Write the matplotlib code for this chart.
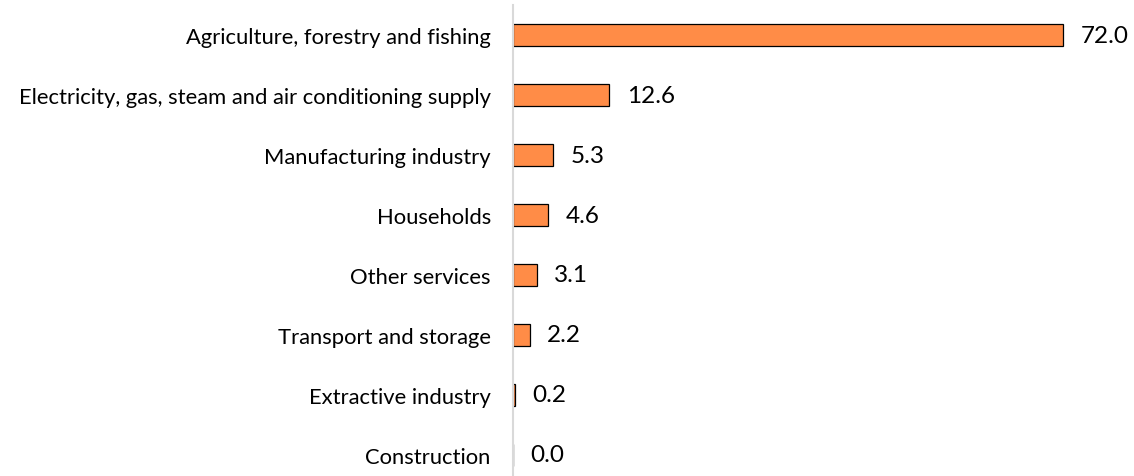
import matplotlib
matplotlib.use("Agg")
import matplotlib.pyplot as plt

categories = ["Agriculture, forestry and fishing",
              "Electricity, gas, steam and air conditioning supply",
              "Manufacturing industry",
              "Households",
              "Other services",
              "Transport and storage",
              "Extractive industry",
              "Construction"]
values = [72.0, 12.6, 5.3, 4.6, 3.1, 2.2, 0.2, 0.0]

plt.rcParams['font.family'] = ['Lato', 'DejaVu Sans']

fig = plt.figure(figsize=(11.34, 4.77), dpi=100)
ax = fig.add_axes([513/1134, 0, (1124-513)/1134, 471/477])

pos = list(range(len(categories)))
ax.barh(pos, values, height=0.37, color='#FF8C47', edgecolor='black', linewidth=0.9)
ax.set_ylim(7.35, -0.5)
ax.set_xlim(0, 80)

for p, v in zip(pos, values):
    ax.annotate(f"{v:.1f}", xy=(v, p), xytext=(12.5, 0), textcoords='offset points',
                ha='left', va='center', fontsize=17.5, color='black')

ax.set_yticks(pos)
ax.set_yticklabels(categories, fontsize=15.8)
ax.tick_params(axis='y', length=0, pad=16)
ax.set_xticks([])
for s in ['top', 'right', 'bottom']:
    ax.spines[s].set_visible(False)
ax.spines['left'].set_color('#D9D9D9')
ax.spines['left'].set_linewidth(1.5)

fig.savefig("out.png", dpi=100)
